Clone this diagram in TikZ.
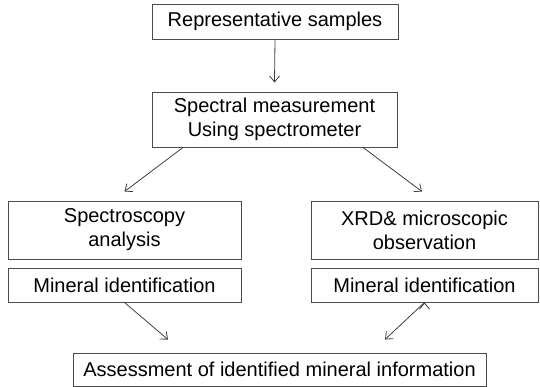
\documentclass[tikz,border=0pt]{standalone}
\usepackage{fontspec}
\setmainfont{Liberation Sans}
\usetikzlibrary{arrows.meta}
\tikzset{>={Straight Barb[length=6pt,width=10pt]}}
\tikzset{box/.style={draw=black!70, line width=0.9pt, fill=white, align=center, inner sep=0pt, font=\fontsize{20}{24}\selectfont}}
\tikzset{link/.style={->, draw=black!75, line width=0.8pt}}

\begin{document}
\begin{tikzpicture}[x=1pt, y=-1pt]
\useasboundingbox (0,0) rectangle (540,387);
\node[box, minimum width=246pt, minimum height=35pt] (samples) at (275,21.5) {Representative samples};
\node[box, minimum width=245pt, minimum height=55pt] (measure) at (274.5,119.5) {Spectral measurement\\Using spectrometer};
\node[box, minimum width=233pt, minimum height=58pt] (spec) at (124.5,230) {Spectroscopy\\analysis};
\node[box, minimum width=233pt, minimum height=34pt] (specid) at (124.5,285) {Mineral identification};
\node[box, minimum width=227pt, minimum height=58pt] (xrd) at (424.5,230) {XRD\& microscopic\\observation};
\node[box, minimum width=227pt, minimum height=34pt] (xrdid) at (424.5,285) {Mineral identification};
\node[box, minimum width=413pt, minimum height=33pt] (assess) at (279.5,369.5) {Assessment of identified mineral information};
\path[link]
(samples.south) edge ([yshift=9pt]measure.north)
([xshift=-91.5pt]measure.south) edge ([yshift=9pt]spec.north)
([xshift=88.5pt]measure.south) edge ([xshift=-2.5pt,yshift=9pt]xrd.north)
(specid.south) edge ([xshift=-111.5pt,yshift=13pt]assess.north)
(xrdid.south) edge ([xshift=105.5pt,yshift=13pt]assess.north)
;
\end{tikzpicture}
\end{document}
